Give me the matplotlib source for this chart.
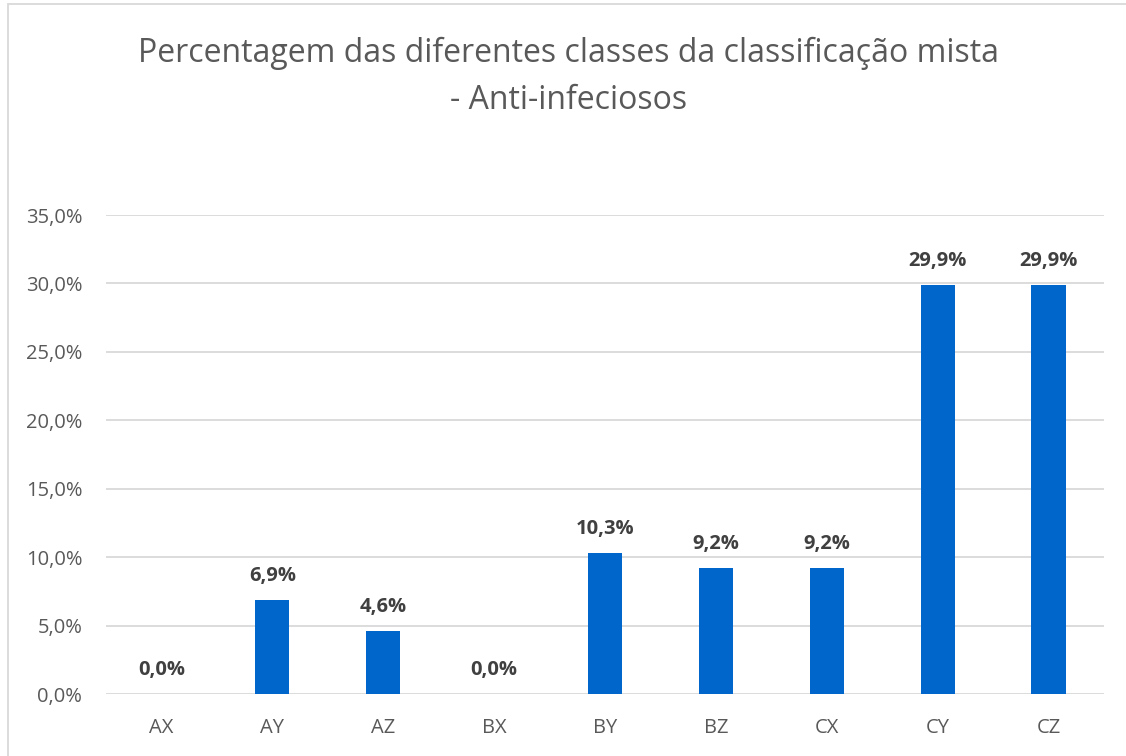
import matplotlib.pyplot as plt
from matplotlib.patches import Rectangle

plt.rcParams['font.family'] = ['Open Sans', 'DejaVu Sans']

categorias = ['AX', 'AY', 'AZ', 'BX', 'BY', 'BZ', 'CX', 'CY', 'CZ']
percentagens = [0.0, 6.9, 4.6, 0.0, 10.3, 9.2, 9.2, 29.9, 29.9]
yticks = [0, 5, 10, 15, 20, 25, 30, 35]

fig = plt.figure(figsize=(11.26, 7.56), dpi=100)
ax = fig.add_axes([0.0941, 0.082, 0.8864, 0.6336])

x = range(len(categorias))
bars = ax.bar(x, percentagens, width=0.31, color='#0066CC', zorder=3)

for xi, v in zip(x, percentagens):
    ax.text(xi, v + 1.0, f'{v:.1f}%'.replace('.', ','), ha='center', va='bottom',
            fontsize=14.5, fontweight='bold', color='#404040')

ax.set_xlim(-0.5, len(categorias) - 0.5)
ax.set_ylim(0, 35)
ax.set_yticks(yticks)
ax.set_yticklabels([f'{t:.1f}%'.replace('.', ',') for t in yticks])
ax.set_xticks(list(x))
ax.set_xticklabels(categorias)
ax.tick_params(axis='both', length=0, labelsize=14.5, labelcolor='#595959')
ax.tick_params(axis='x', pad=17)
ax.tick_params(axis='y', pad=17)
ax.grid(axis='y', color='#D9D9D9', linewidth=1.3, zorder=0)
for s in ax.spines.values():
    s.set_visible(False)

fig.text(0.505, 0.929, 'Percentagem das diferentes classes da classificação mista',
         ha='center', va='center', fontsize=23, color='#595959')
fig.text(0.505, 0.867, '- Anti-infeciosos', ha='center', va='center',
         fontsize=23, color='#595959')

fig.patches.append(Rectangle((8 / 1126, -0.01), 1.0, 1.0 - 4 / 756 + 0.01,
                             transform=fig.transFigure, fill=False,
                             edgecolor='#D9D9D9', linewidth=1.3))

fig.savefig('out.png', dpi=100)
